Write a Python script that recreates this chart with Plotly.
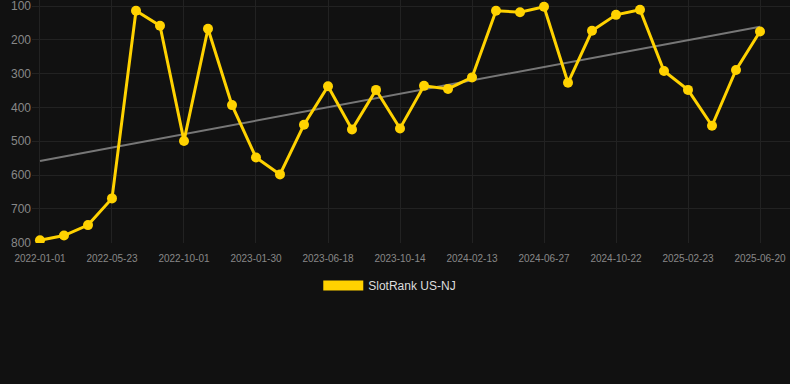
import numpy as np
import plotly.graph_objects as go

dates = [
    "2022-01-01", "2022-02-17", "2022-04-05", "2022-05-23", "2022-07-05", "2022-08-18",
    "2022-10-01", "2022-11-10", "2022-12-20", "2023-01-30", "2023-03-17", "2023-05-02",
    "2023-06-18", "2023-08-05", "2023-09-09", "2023-10-14", "2023-11-24", "2024-01-03",
    "2024-02-13", "2024-03-28", "2024-05-12", "2024-06-27", "2024-08-05", "2024-09-13",
    "2024-10-22", "2024-12-04", "2025-01-13", "2025-02-23", "2025-04-03", "2025-05-12",
    "2025-06-20",
]
rank = [
    793, 779, 748, 669, 114, 158,
    499, 167, 393, 548, 598, 451,
    337, 465, 348, 462, 336, 345,
    311, 114, 118, 102, 327, 173,
    126, 111, 292, 348, 454, 289,
    175,
]
tick_labels = [
    "2022-01-01", "2022-05-23", "2022-10-01", "2023-01-30", "2023-06-18", "2023-10-14",
    "2024-02-13", "2024-06-27", "2024-10-22", "2025-02-23", "2025-06-20",
]
y_ticks = [100, 200, 300, 400, 500, 600, 700, 800]
series_name = "SlotRank US-NJ"

GOLD = "#FFD200"

idx = np.arange(len(rank))
slope, intercept = np.polyfit(idx, rank, 1)
trend = slope * idx + intercept

fig = go.Figure()
fig.add_trace(go.Scatter(
    x=dates, y=trend, mode="lines",
    line=dict(color="#777777", width=2),
    showlegend=False, hoverinfo="skip",
))
fig.add_trace(go.Scatter(
    x=dates, y=rank, mode="lines+markers",
    line=dict(color=GOLD, width=3),
    marker=dict(color=GOLD, size=10),
    name=series_name, showlegend=False,
))
fig.add_trace(go.Scatter(
    x=[None], y=[None], mode="lines",
    line=dict(color=GOLD, width=10),
    name=series_name, showlegend=True,
))

fig.update_layout(
    width=790, height=384,
    paper_bgcolor="#111111", plot_bgcolor="#111111",
    margin=dict(l=32, r=0, t=0, b=141),
    font=dict(family="Liberation Sans, Arial, sans-serif", color="#888888"),
    legend=dict(
        orientation="h", x=0.472, xanchor="center", y=-0.115, yanchor="top",
        font=dict(size=12, color="#dddddd"), itemwidth=40,
        bgcolor="rgba(0,0,0,0)",
    ),
)
fig.update_xaxes(
    type="category", categoryorder="array", categoryarray=dates,
    range=[-0.333, 31.25],
    tickvals=tick_labels, ticktext=tick_labels,
    tickfont=dict(size=10, color="#888888"),
    showgrid=True, gridcolor="#222222", gridwidth=1,
    zeroline=False, showline=False, ticks="",
    ticklabelstandoff=8, ticklabeloverflow="allow",
)
fig.update_yaxes(
    range=[801, 82], tickvals=y_ticks,
    tickfont=dict(size=12, color="#888888"),
    showgrid=True, gridcolor="#222222", gridwidth=1,
    zeroline=False, showline=False, ticks="",
    ticklabeloverflow="allow",
)

fig.write_html(
    "out.html",
    config={"displayModeBar": False},
    post_script="document.body.style.margin='0';document.body.style.background='#111111';",
)
